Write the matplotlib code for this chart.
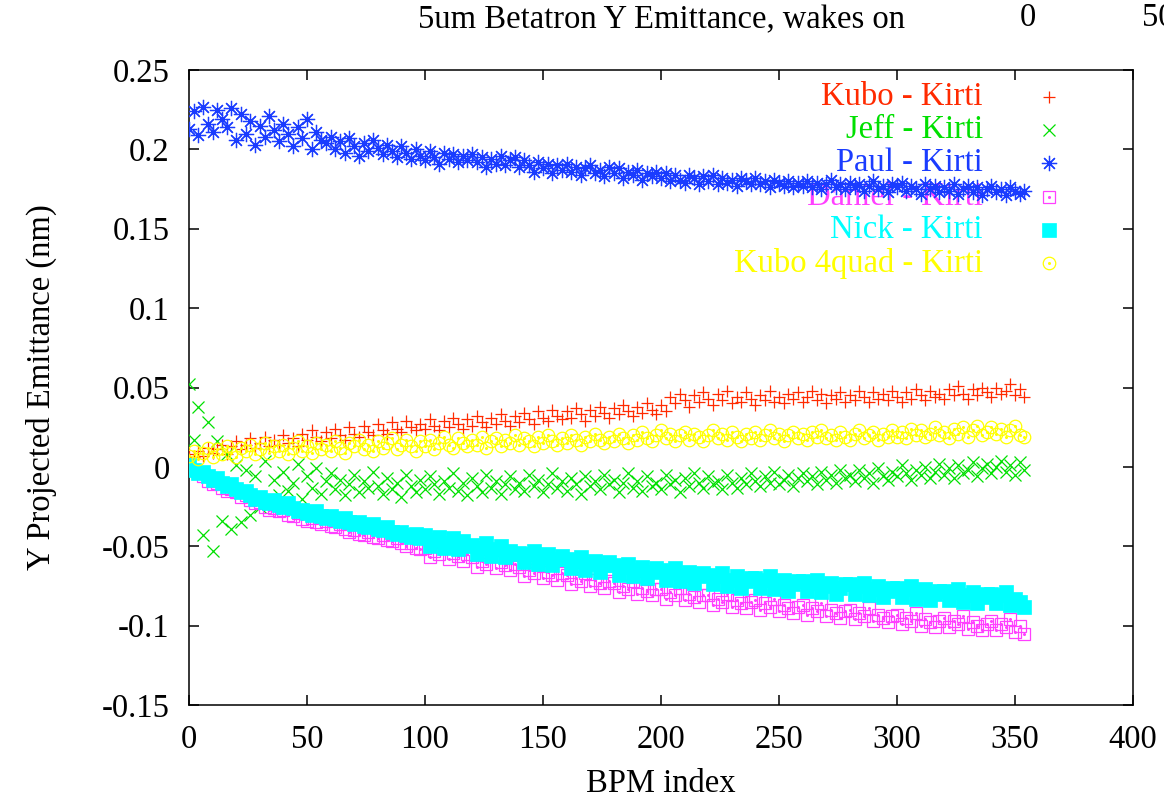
import matplotlib
matplotlib.use('Agg')
import matplotlib.pyplot as plt
import numpy as np
from matplotlib.ticker import FuncFormatter

plt.rcParams['font.family'] = ['Liberation Serif', 'DejaVu Serif']
plt.rcParams['axes.unicode_minus'] = False

# BPM index, every 2nd BPM
bpm = np.arange(0, 356, 2)

kubo = [0.008, 0.006, 0.010, 0.007, 0.012, 0.009, 0.011, 0.014, 0.008, 0.013,
        0.016, 0.011, 0.014, 0.018, 0.012, 0.015, 0.019, 0.013, 0.017, 0.014,
        0.020, 0.015, 0.018, 0.013, 0.021, 0.017, 0.023, 0.019, 0.016, 0.022,
        0.018, 0.024, 0.020, 0.017, 0.025, 0.021, 0.019, 0.026, 0.022, 0.020,
        0.027, 0.023, 0.021, 0.028, 0.024, 0.022, 0.029, 0.025, 0.023, 0.027,
        0.024, 0.030, 0.026, 0.023, 0.029, 0.025, 0.031, 0.027, 0.024, 0.030,
        0.026, 0.032, 0.028, 0.025, 0.031, 0.027, 0.033, 0.029, 0.026, 0.032,
        0.028, 0.034, 0.030, 0.027, 0.035, 0.031, 0.029, 0.036, 0.032, 0.030,
        0.035, 0.031, 0.037, 0.033, 0.029, 0.036, 0.032, 0.038, 0.034, 0.031,
        0.037, 0.033, 0.039, 0.035, 0.032, 0.038, 0.034, 0.040, 0.036, 0.033,
        0.039, 0.035, 0.044, 0.040, 0.046, 0.042, 0.038, 0.045, 0.041, 0.047,
        0.043, 0.039, 0.046, 0.042, 0.048, 0.040, 0.044, 0.041, 0.047, 0.043,
        0.039, 0.045, 0.042, 0.048, 0.041, 0.044, 0.040, 0.046, 0.043, 0.047,
        0.041, 0.044, 0.048, 0.042, 0.046, 0.040, 0.045, 0.043, 0.047, 0.041,
        0.045, 0.042, 0.048, 0.044, 0.041, 0.047, 0.043, 0.046, 0.042, 0.048,
        0.044, 0.041, 0.047, 0.043, 0.049, 0.045, 0.042, 0.048, 0.044, 0.046,
        0.043, 0.049, 0.045, 0.051, 0.046, 0.043, 0.049, 0.045, 0.050, 0.047,
        0.044, 0.050, 0.046, 0.048, 0.052, 0.045, 0.049, 0.044]

jeff = [0.052, 0.017, 0.038, -0.043, 0.028, -0.053, 0.016, -0.034, 0.008, -0.039,
        0.001, -0.035, -0.002, -0.030, -0.006, -0.025, 0.004, -0.024, -0.008, -0.018,
        -0.003, -0.015, -0.010, 0.002, -0.020, -0.006, -0.013, -0.001, -0.017, -0.009,
        -0.004, -0.014, -0.008, -0.018, -0.011, -0.005, -0.016, -0.009, -0.013, -0.003,
        -0.012, -0.017, -0.007, -0.014, -0.010, -0.019, -0.005, -0.012, -0.016, -0.008,
        -0.014, -0.006, -0.011, -0.017, -0.009, -0.013, -0.004, -0.015, -0.010, -0.018,
        -0.007, -0.012, -0.016, -0.005, -0.013, -0.009, -0.017, -0.011, -0.006, -0.014,
        -0.010, -0.015, -0.005, -0.012, -0.008, -0.016, -0.011, -0.004, -0.013, -0.009,
        -0.015, -0.007, -0.011, -0.017, -0.006, -0.012, -0.009, -0.014, -0.005, -0.011,
        -0.008, -0.016, -0.010, -0.004, -0.013, -0.009, -0.015, -0.006, -0.012, -0.010,
        -0.014, -0.005, -0.011, -0.008, -0.016, -0.007, -0.012, -0.004, -0.010, -0.013,
        -0.006, -0.011, -0.009, -0.014, -0.005, -0.010, -0.013, -0.007, -0.011, -0.004,
        -0.009, -0.012, -0.006, -0.010, -0.003, -0.011, -0.008, -0.005, -0.012, -0.007,
        -0.004, -0.009, -0.006, -0.011, -0.003, -0.008, -0.005, -0.010, -0.002, -0.007,
        -0.005, -0.009, -0.002, -0.007, -0.004, -0.010, -0.001, -0.006, -0.008, -0.003,
        -0.006, 0.001, -0.004, -0.008, -0.002, -0.005, 0.000, -0.007, -0.003, 0.002,
        -0.005, -0.001, -0.007, 0.001, -0.004, -0.002, 0.003, -0.006, -0.001, 0.002,
        -0.004, 0.000, 0.004, -0.003, 0.001, -0.005, 0.003, -0.002]

paul = [0.213, 0.224, 0.209, 0.227, 0.216, 0.211, 0.225, 0.219, 0.214, 0.226,
        0.206, 0.222, 0.210, 0.218, 0.203, 0.215, 0.208, 0.221, 0.212, 0.205,
        0.216, 0.210, 0.202, 0.214, 0.207, 0.219, 0.200, 0.211, 0.206, 0.204,
        0.208, 0.200, 0.205, 0.198, 0.207, 0.202, 0.196, 0.204, 0.199, 0.206,
        0.201, 0.197, 0.203, 0.199, 0.195, 0.202, 0.198, 0.194, 0.200, 0.196,
        0.193, 0.199, 0.195, 0.191, 0.198, 0.194, 0.197, 0.192, 0.196, 0.193,
        0.197, 0.192, 0.195, 0.189, 0.194, 0.191, 0.196, 0.190, 0.193, 0.195,
        0.189, 0.193, 0.190, 0.186, 0.192, 0.188, 0.191, 0.185, 0.190, 0.187,
        0.191, 0.186, 0.189, 0.184, 0.188, 0.190, 0.185, 0.187, 0.183, 0.189,
        0.185, 0.188, 0.182, 0.186, 0.184, 0.187, 0.181, 0.185, 0.183, 0.186,
        0.182, 0.185, 0.180, 0.184, 0.181, 0.179, 0.184, 0.182, 0.178, 0.183,
        0.180, 0.184, 0.178, 0.182, 0.179, 0.181, 0.177, 0.182, 0.180, 0.178,
        0.182, 0.178, 0.180, 0.176, 0.181, 0.179, 0.177, 0.180, 0.176, 0.179,
        0.177, 0.180, 0.176, 0.179, 0.175, 0.178, 0.181, 0.176, 0.178, 0.175,
        0.179, 0.176, 0.178, 0.174, 0.177, 0.180, 0.175, 0.177, 0.173, 0.178,
        0.176, 0.179, 0.174, 0.177, 0.175, 0.172, 0.178, 0.175, 0.177, 0.173,
        0.176, 0.174, 0.178, 0.172, 0.175, 0.177, 0.173, 0.176, 0.171, 0.175,
        0.177, 0.173, 0.175, 0.171, 0.176, 0.174, 0.172, 0.174]

daniel = [0.000, -0.002, -0.004, -0.006, -0.009, -0.011, -0.010, -0.013, -0.015, -0.014,
          -0.016, -0.019, -0.018, -0.021, -0.023, -0.022, -0.025, -0.027, -0.026, -0.028,
          -0.027, -0.030, -0.031, -0.029, -0.033, -0.034, -0.032, -0.035, -0.036, -0.034,
          -0.037, -0.038, -0.036, -0.039, -0.041, -0.040, -0.042, -0.043, -0.041, -0.044,
          -0.045, -0.043, -0.046, -0.047, -0.045, -0.048, -0.050, -0.048, -0.051, -0.052,
          -0.051, -0.057, -0.053, -0.055, -0.050, -0.058, -0.054, -0.056, -0.059, -0.055,
          -0.057, -0.063, -0.059, -0.061, -0.056, -0.064, -0.060, -0.062, -0.065, -0.061,
          -0.063, -0.069, -0.065, -0.067, -0.062, -0.070, -0.066, -0.068, -0.071, -0.067,
          -0.068, -0.074, -0.070, -0.072, -0.067, -0.075, -0.071, -0.073, -0.076, -0.072,
          -0.073, -0.079, -0.075, -0.077, -0.072, -0.080, -0.076, -0.078, -0.081, -0.077,
          -0.077, -0.083, -0.079, -0.081, -0.076, -0.084, -0.080, -0.082, -0.085, -0.081,
          -0.081, -0.087, -0.083, -0.085, -0.080, -0.088, -0.084, -0.086, -0.089, -0.085,
          -0.084, -0.090, -0.086, -0.088, -0.083, -0.091, -0.087, -0.089, -0.092, -0.088,
          -0.087, -0.093, -0.089, -0.091, -0.086, -0.094, -0.090, -0.092, -0.095, -0.091,
          -0.090, -0.096, -0.092, -0.094, -0.089, -0.097, -0.093, -0.095, -0.098, -0.094,
          -0.093, -0.099, -0.095, -0.097, -0.092, -0.100, -0.096, -0.098, -0.101, -0.097,
          -0.095, -0.101, -0.097, -0.099, -0.094, -0.102, -0.098, -0.100, -0.103, -0.099,
          -0.097, -0.103, -0.099, -0.101, -0.096, -0.104, -0.100, -0.105]

nick = [0.001, -0.002, -0.004, -0.003, -0.006, -0.008, -0.007, -0.010, -0.012, -0.011,
        -0.014, -0.016, -0.015, -0.018, -0.020, -0.019, -0.022, -0.023, -0.021, -0.024,
        -0.025, -0.023, -0.026, -0.028, -0.027, -0.029, -0.030, -0.028, -0.031, -0.032,
        -0.031, -0.033, -0.034, -0.032, -0.035, -0.036, -0.035, -0.037, -0.038, -0.036,
        -0.039, -0.040, -0.038, -0.041, -0.042, -0.041, -0.043, -0.044, -0.042, -0.045,
        -0.043, -0.050, -0.046, -0.044, -0.051, -0.048, -0.045, -0.052, -0.047, -0.050,
        -0.049, -0.055, -0.051, -0.048, -0.056, -0.052, -0.050, -0.057, -0.053, -0.055,
        -0.054, -0.060, -0.055, -0.053, -0.061, -0.057, -0.055, -0.062, -0.058, -0.056,
        -0.058, -0.064, -0.059, -0.057, -0.065, -0.061, -0.059, -0.066, -0.062, -0.060,
        -0.062, -0.068, -0.063, -0.061, -0.069, -0.065, -0.063, -0.070, -0.066, -0.064,
        -0.065, -0.071, -0.066, -0.064, -0.072, -0.068, -0.066, -0.073, -0.069, -0.067,
        -0.068, -0.074, -0.069, -0.067, -0.075, -0.071, -0.069, -0.076, -0.072, -0.070,
        -0.070, -0.076, -0.071, -0.069, -0.077, -0.073, -0.071, -0.078, -0.074, -0.072,
        -0.072, -0.078, -0.073, -0.071, -0.079, -0.075, -0.073, -0.080, -0.076, -0.074,
        -0.074, -0.080, -0.075, -0.073, -0.081, -0.077, -0.075, -0.082, -0.078, -0.076,
        -0.076, -0.082, -0.077, -0.075, -0.083, -0.079, -0.077, -0.084, -0.080, -0.078,
        -0.078, -0.084, -0.079, -0.077, -0.085, -0.081, -0.079, -0.086, -0.082, -0.080,
        -0.080, -0.086, -0.081, -0.079, -0.087, -0.083, -0.085, -0.088]

kubo4 = [0.007, 0.010, 0.005, 0.009, 0.012, 0.006, 0.011, 0.008, 0.013, 0.009,
         0.006, 0.012, 0.010, 0.014, 0.008, 0.011, 0.015, 0.009, 0.013, 0.010,
         0.014, 0.008, 0.012, 0.016, 0.010, 0.013, 0.009, 0.015, 0.011, 0.014,
         0.010, 0.016, 0.012, 0.009, 0.015, 0.013, 0.017, 0.011, 0.014, 0.010,
         0.016, 0.012, 0.015, 0.018, 0.011, 0.014, 0.017, 0.013, 0.010, 0.016,
         0.013, 0.017, 0.011, 0.015, 0.019, 0.014, 0.012, 0.018, 0.015, 0.013,
         0.017, 0.014, 0.019, 0.012, 0.016, 0.018, 0.013, 0.017, 0.015, 0.020,
         0.014, 0.018, 0.016, 0.013, 0.019, 0.015, 0.020, 0.016, 0.014, 0.018,
         0.015, 0.020, 0.017, 0.014, 0.019, 0.016, 0.021, 0.017, 0.015, 0.019,
         0.016, 0.021, 0.018, 0.015, 0.020, 0.017, 0.022, 0.018, 0.016, 0.020,
         0.023, 0.018, 0.021, 0.016, 0.020, 0.022, 0.017, 0.021, 0.019, 0.016,
         0.020, 0.023, 0.018, 0.021, 0.017, 0.022, 0.019, 0.016, 0.021, 0.018,
         0.022, 0.017, 0.020, 0.023, 0.018, 0.021, 0.016, 0.020, 0.022, 0.018,
         0.021, 0.017, 0.022, 0.019, 0.023, 0.018, 0.020, 0.017, 0.022, 0.019,
         0.017, 0.021, 0.023, 0.018, 0.020, 0.022, 0.017, 0.021, 0.019, 0.023,
         0.019, 0.022, 0.018, 0.024, 0.020, 0.023, 0.019, 0.021, 0.025, 0.020,
         0.022, 0.018, 0.024, 0.021, 0.025, 0.019, 0.023, 0.026, 0.020, 0.022,
         0.025, 0.021, 0.024, 0.019, 0.023, 0.026, 0.020, 0.019]

labels = ['Kubo - Kirti', 'Jeff - Kirti', 'Paul - Kirti', 'Daniel - Kirti', 'Nick - Kirti', 'Kubo 4quad - Kirti']
series = [kubo, jeff, paul, daniel, nick, kubo4]
colors = ['#ff2a00', '#00e000', '#1a3cff', '#ff40ff', '#00ffff', '#ffff00']
styles = [dict(marker='+', ms=8.5, mew=0.9),
          dict(marker='x', ms=8.5, mew=0.9),
          dict(marker=(8, 2, 0), ms=11, mew=0.9),
          dict(marker='s', ms=8.5, mew=0.9, mfc='none'),
          dict(marker='s', ms=9.5, mew=0.5),
          dict(marker='o', ms=9, mew=0.9, mfc='none')]
dotted = [False, False, False, True, False, True]

fig = plt.figure(figsize=(11.64, 8.0), dpi=100)
ax = fig.add_axes([189/1164, 1-705/800, 944/1164, 635/800])

legend_y = [0.9575, 0.9055, 0.8535, 0.800, 0.748, 0.696]
for i in range(len(series)):
    ax.text(0.841, legend_y[i], labels[i], transform=ax.transAxes, color=colors[i],
            fontsize=23.5, ha='right', va='center', zorder=1)
    ax.plot([0.911], [legend_y[i]], transform=ax.transAxes, ls='none', color=colors[i],
            mec=colors[i], zorder=2, clip_on=False, **styles[i])
    if dotted[i]:
        ax.plot([0.911], [legend_y[i]], transform=ax.transAxes, ls='none', marker='o',
                ms=1.2, color=colors[i], zorder=2)
    ax.plot(bpm, series[i], ls='none', color=colors[i], mec=colors[i], zorder=3+i, **styles[i])
    if dotted[i]:
        ax.plot(bpm, series[i], ls='none', marker='o', ms=1.2, color=colors[i], zorder=3+i)

ax.set_xlim(0, 400)
ax.set_ylim(-0.15, 0.25)
ax.set_xticks(np.arange(0, 401, 50))
ax.set_yticks(np.arange(-0.15, 0.251, 0.05))
ax.yaxis.set_major_formatter(FuncFormatter(lambda v, p: '%g' % round(v, 2)))
ax.tick_params(direction='in', top=True, right=True, length=7, width=1.1, labelsize=23.5)
ax.tick_params(axis='y', pad=14)
ax.tick_params(axis='x', pad=14)
for s in ax.spines.values():
    s.set_linewidth(1.1)

ax.set_xlabel('BPM index', fontsize=23.5)
ax.xaxis.set_label_coords(0.5, -0.1)
ax.set_ylabel('Y Projected Emittance (nm)', fontsize=23.5)
ax.yaxis.set_label_coords(-0.14, 0.5)

fig.text(661/1164, 1-20/800, '5um Betatron Y Emittance, wakes on', fontsize=23.5, ha='center', va='center')
fig.text(1028/1164, 1-18/800, '0', fontsize=23.5, ha='center', va='center')
fig.text(1142/1164, 1-18/800, '50', fontsize=23.5, ha='left', va='center')

fig.savefig('out.png', dpi=100)
